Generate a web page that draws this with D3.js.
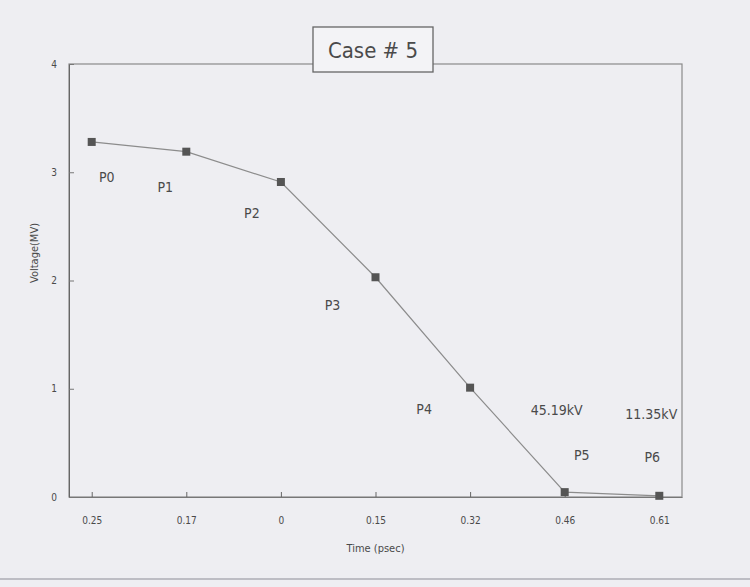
<!DOCTYPE html>
<html>
<head>
<meta charset="utf-8">
<script src="https://cdn.jsdelivr.net/npm/d3@7"></script>
<style>
  body { margin: 0; background: #eeeef2; }
  svg { display: block; }
  text { font-family: "Liberation Sans Narrow", "DejaVu Sans Condensed", "Liberation Sans", sans-serif; fill: #4a4a4a; }
</style>
</head>
<body>
<div id="chart"></div>
<script>
// data
const timeLabels = ["0.25", "0.17", "0", "0.15", "0.32", "0.46", "0.61"];
const pointNames = ["P0", "P1", "P2", "P3", "P4", "P5", "P6"];
const voltages = [3.28, 3.19, 2.91, 2.03, 1.01, 0.045, 0.011];
const kvNotes = ["", "", "", "", "", "45.19kV", "11.35kV"];
const yTicks = [0, 1, 2, 3, 4];

const width = 750;
const height = 587;
const margin = { top: 64, right: 68, bottom: 90, left: 69 };

const svg = d3.select("#chart")
              .append("svg")
              .attr("width", width)
              .attr("height", height);

const x = d3.scalePoint()
            .domain(timeLabels)
            .range([margin.left, width - margin.right])
            .padding(0.24);

const y = d3.scaleLinear()
            .domain([0, 4])
            .range([height - margin.bottom, margin.top]);

// plot frame
svg.append("rect")
   .attr("x", margin.left)
   .attr("y", margin.top)
   .attr("width", width - margin.left - margin.right)
   .attr("height", height - margin.top - margin.bottom)
   .attr("fill", "none")
   .attr("stroke", "#8a8a8a")
   .attr("stroke-width", 1.2);

// x axis - ticks point inward
const xAxis = svg.append("g")
   .attr("transform", `translate(0,${height - margin.bottom})`)
   .call(d3.axisBottom(x).tickSizeInner(-5).tickSizeOuter(0).tickPadding(20));
xAxis.select(".domain").attr("stroke", "#777");
xAxis.selectAll(".tick line").attr("stroke", "#666");
xAxis.selectAll("text").attr("font-size", 10).attr("fill", "#4a4a4a");

// y axis
const yAxis = svg.append("g")
   .attr("transform", `translate(${margin.left},0)`)
   .call(d3.axisLeft(y).tickValues(yTicks).tickFormat(d3.format("d"))
           .tickSizeInner(-5).tickSizeOuter(0).tickPadding(12));
yAxis.select(".domain").attr("stroke", "#666");
yAxis.selectAll(".tick line").attr("stroke", "#777");
yAxis.selectAll("text").attr("font-size", 10).attr("fill", "#4a4a4a");

// axis titles
svg.append("text")
   .attr("x", (margin.left + width - margin.right) / 2)
   .attr("y", 552)
   .attr("text-anchor", "middle")
   .attr("font-size", 11)
   .text("Time (psec)");

svg.append("text")
   .attr("transform", "translate(38,253) rotate(-90)")
   .attr("text-anchor", "middle")
   .attr("font-size", 11)
   .text("Voltage(MV)");

// line through the points
const pts = timeLabels.map((t, i) => [x(t), y(voltages[i])]);

svg.append("path")
   .datum(pts)
   .attr("fill", "none")
   .attr("stroke", "#8c8c8c")
   .attr("stroke-width", 1.2)
   .attr("d", d3.line());

svg.selectAll(".marker")
   .data(pts)
   .join("rect")
   .attr("class", "marker")
   .attr("x", d => d[0] - 4)
   .attr("y", d => d[1] - 4)
   .attr("width", 8)
   .attr("height", 8)
   .attr("fill", "#555");

// point names, placed beside each marker
const nameOffsets = [[15, 40], [-21, 40], [-29, 36], [-43, 33], [-46, 26], [17, -32], [-7, -34]];
svg.selectAll(".pname")
   .data(pointNames)
   .join("text")
   .attr("class", "pname")
   .attr("x", (d, i) => pts[i][0] + nameOffsets[i][0])
   .attr("y", (d, i) => pts[i][1] + nameOffsets[i][1])
   .attr("text-anchor", "middle")
   .attr("font-size", 14)
   .text(d => d);

svg.selectAll(".kv")
   .data(kvNotes)
   .join("text")
   .attr("class", "kv")
   .attr("x", (d, i) => pts[i][0] - 8)
   .attr("y", (d, i) => pts[i][1] - 77)
   .attr("text-anchor", "middle")
   .attr("font-size", 14)
   .text(d => d);

// title box
svg.append("rect")
   .attr("x", 313)
   .attr("y", 27)
   .attr("width", 120)
   .attr("height", 45)
   .attr("fill", "#f3f3f6")
   .attr("stroke", "#666")
   .attr("stroke-width", 1.3);

svg.append("text")
   .attr("x", 373)
   .attr("y", 58)
   .attr("text-anchor", "middle")
   .attr("font-size", 22)
   .text("Case # 5");

// scan edge line near the bottom of the page
svg.append("line")
   .attr("x1", 0).attr("x2", width)
   .attr("y1", 579).attr("y2", 579)
   .attr("stroke", "#bdbdc4")
   .attr("stroke-width", 2);
</script>
</body>
</html>
